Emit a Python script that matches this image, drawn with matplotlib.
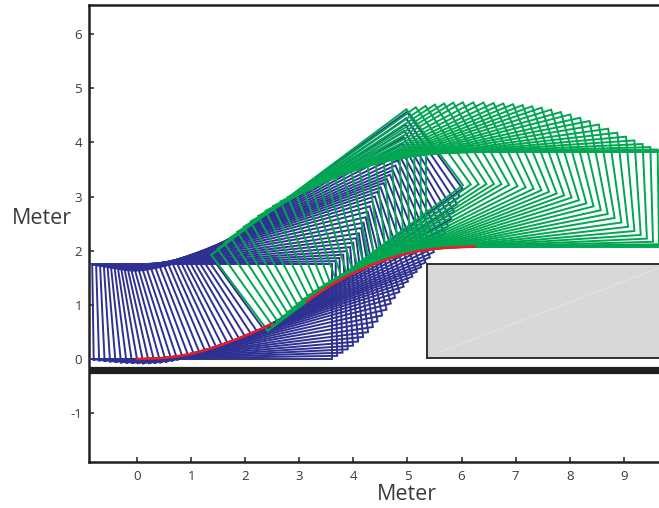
import numpy as np
import matplotlib
matplotlib.use('Agg')
import matplotlib.pyplot as plt

plt.rcParams['font.family'] = ['Open Sans', 'DejaVu Sans']
plt.rcParams['axes.unicode_minus'] = False

# vehicle reference point and heading
blue_x = [0.0, 0.1, 0.2, 0.3, 0.4, 0.5, 0.6, 0.7, 0.8, 0.9, 1.0, 1.1, 1.2, 1.3, 1.4, 1.5,
          1.6, 1.7, 1.8, 1.9, 2.0, 2.1, 2.2, 2.3, 2.4, 2.5, 2.6, 2.7, 2.8, 2.9, 3.0, 3.1]
blue_y = [0.0, 0.001, 0.003, 0.008, 0.013, 0.021, 0.031, 0.044, 0.058, 0.077, 0.096, 0.12,
          0.146, 0.176, 0.207, 0.241, 0.276, 0.313, 0.35, 0.389, 0.428, 0.47, 0.512, 0.558,
          0.606, 0.658, 0.712, 0.771, 0.831, 0.897, 0.964, 1.036]
blue_deg = [0.0, 0.9, 1.8, 2.7, 3.7, 4.8, 6.0, 7.2, 8.5, 9.9, 11.3, 12.7, 14.1, 15.4, 16.6, 17.7,
            18.7, 19.6, 20.5, 21.3, 22.1, 23.0, 24.0, 25.1, 26.3, 27.6, 28.9, 30.3, 31.7, 33.1, 34.5, 35.9]

green_x = [3.14, 3.24, 3.34, 3.44, 3.54, 3.64, 3.74, 3.85, 3.96, 4.07, 4.18, 4.29, 4.40, 4.51, 4.62,
           4.73, 4.84, 4.95, 5.06, 5.17, 5.28, 5.39, 5.50, 5.61, 5.72, 5.83, 5.94, 6.05, 6.15, 6.25]
green_y = [1.06, 1.134, 1.204, 1.271, 1.335, 1.396, 1.454, 1.513, 1.569, 1.621, 1.670, 1.717, 1.761, 1.802, 1.840,
           1.875, 1.908, 1.937, 1.963, 1.986, 2.005, 2.02, 2.034, 2.044, 2.053, 2.06, 2.065, 2.069, 2.072, 2.075]
green_deg = [36.7, 35.5, 34.2, 33.0, 31.8, 30.6, 29.3, 27.8, 26.4, 25.0, 23.7, 22.4, 21.1, 19.8, 18.5,
             17.1, 15.6, 14.2, 12.6, 11.1, 9.6, 8.0, 6.5, 5.1, 3.8, 2.6, 1.6, 0.8, 0.3, 0.0]

# vehicle outline around the reference point
rear = 0.9
front = 3.6
height = 1.75

# obstacle and ground
box_x = [5.37, 9.9]
box_y = [0.02, 1.76]
ground_y = -0.195

x_ticks = [0, 1, 2, 3, 4, 5, 6, 7, 8, 9]
y_ticks = [-1, 0, 1, 2, 3, 4, 5, 6]

BLUE = '#2e3192'
GREEN = '#00a651'
RED = '#ed1c24'
DARK = '#231f20'


def draw_vehicle(ax, x, y, deg, color):
    th = np.radians(deg)
    ux, uy = np.cos(th), np.sin(th)
    vx, vy = -uy, ux
    along = np.array([-rear, front, front, -rear, -rear])
    up = np.array([0, 0, height, height, 0])
    ax.plot(x + along * ux + up * vx, y + along * uy + up * vy,
            color=color, lw=1.4, solid_joinstyle='miter', zorder=3)


fig = plt.figure(figsize=(6.59, 5.08), dpi=100)
ax = fig.add_axes([89 / 659, 46 / 508, 570 / 659, 457 / 508])

ax.fill([box_x[0], box_x[1], box_x[1], box_x[0]], [box_y[0], box_y[0], box_y[1], box_y[1]],
        facecolor='#d7d8da', edgecolor=DARK, lw=1.3, zorder=1)
ax.plot([5.6, 9.65], [0.13, 1.68], color='#e4e5e6', lw=0.7, zorder=1.5)
ax.plot([-0.89, 9.65], [ground_y, ground_y], color=DARK, lw=5.2, solid_capstyle='butt', zorder=2)

for i in range(len(blue_x)):
    draw_vehicle(ax, blue_x[i], blue_y[i], blue_deg[i], BLUE)

# red track is hidden behind the green outlines for a short stretch
ax.plot(blue_x[:26], blue_y[:26], color=RED, lw=1.8, zorder=3.5)

for i in range(len(green_x)):
    draw_vehicle(ax, green_x[i], green_y[i], green_deg[i], GREEN)

ax.plot(green_x, green_y, color=RED, lw=1.8, zorder=4)

ax.set_xlim(-0.887, 9.65)
ax.set_ylim(-1.904, 6.54)
ax.set_xticks(x_ticks)
ax.set_yticks(y_ticks)
ax.tick_params(direction='in', length=3.8, width=1.1, color=DARK, labelcolor='#3a3a3c', labelsize=9.5)
ax.tick_params(axis='x', pad=6)
ax.tick_params(axis='y', pad=5)
ax.spines['right'].set_visible(False)
for side in ['left', 'bottom', 'top']:
    ax.spines[side].set_linewidth(1.8)
    ax.spines[side].set_color(DARK)

fig.text(42 / 659, 1 - 219 / 508, 'Meter', fontsize=15.5, color='#3a3a3c', ha='center', va='center')
fig.text(407 / 659, 1 - 495 / 508, 'Meter', fontsize=15.5, color='#3a3a3c', ha='center', va='center')

fig.savefig('out.png', dpi=100)
